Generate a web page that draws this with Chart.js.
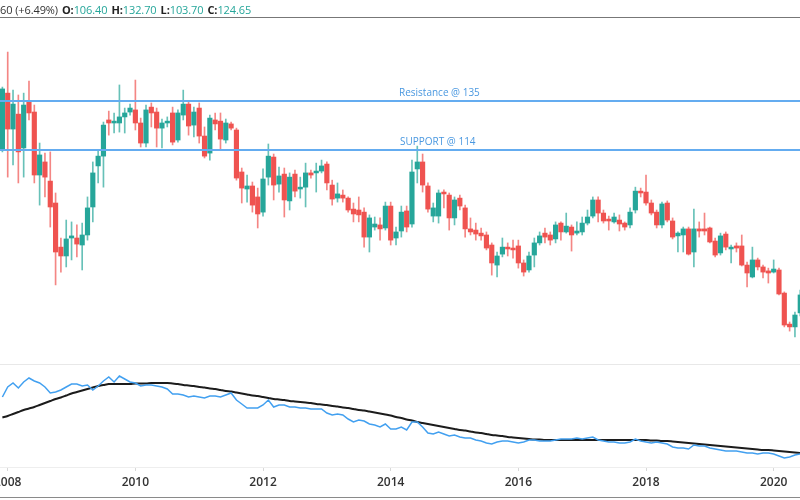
<!DOCTYPE html>
<html><head><meta charset="utf-8">
<script src="https://cdn.jsdelivr.net/npm/chart.js@4/dist/chart.umd.min.js"></script>
<style>
html,body{margin:0;padding:0;background:#fff;width:800px;height:500px;overflow:hidden}
#wrap{position:relative;width:800px;height:500px}
#c{position:absolute;left:0;top:0}
#hdr{position:absolute;left:0;top:2px;font:11px "Open Sans",sans-serif;color:#333;white-space:nowrap;letter-spacing:-0.1px}
#hdr b{font-weight:700;color:#222;margin-left:4px}
#hdr .v{color:#26a69a}
</style></head>
<body><div id="wrap"><canvas id="c" width="800" height="500"></canvas><div id="hdr"></div></div>
<script>
// ---- data (monthly candles, Dec 2007 .. Jun 2020) ----
const firstYear = 2007, firstMonth = 12, candleCount = 151;
const opens = [114.4,138.4,123.0,129.4,114.9,134.6,130.3,103.3,108.9,100.7,91.3,72.4,68.6,
76.3,76.3,73.3,77.6,89.6,107.2,111.4,126.9,125.6,125.6,128.2,130.3,
131.2,125.6,117.0,132.4,130.3,123.4,125.6,129.9,118.3,129.0,133.7,124.7,
132.0,120.0,112.7,126.9,126.4,118.3,125.2,122.6,104.6,97.3,98.6,93.9,
87.4,102.4,111.0,99.4,103.7,92.2,103.7,97.3,98.1,104.2,104.2,105.0,
108.0,99.0,93.4,94.7,93.4,88.7,88.3,87.4,76.7,81.0,81.9,80.6,
90.0,76.3,79.3,87.9,82.3,105.9,108.9,98.6,85.7,85.7,96.0,94.7,
84.9,93.4,89.2,80.2,79.7,78.4,77.6,73.3,64.7,69.4,72.4,72.0,
72.9,65.6,62.6,69.0,74.2,78.4,77.6,75.9,82.7,78.9,81.0,78.4,
78.9,82.7,85.7,92.6,87.0,84.4,83.2,84.0,82.7,81.9,88.3,96.4,
96.0,91.3,87.4,81.9,91.3,83.6,77.2,77.6,80.2,70.3,80.2,80.2,
80.6,75.0,69.9,78.0,71.6,72.9,72.9,64.7,59.6,66.9,63.9,62.2,
61.7,62.6,52.7,39.4,38.2,44.2];
const highs = [141.0,156.0,139.7,137.6,138.4,143.6,133.3,117.0,112.7,113.2,95.6,76.3,84.0,
83.2,81.9,82.7,93.9,108.9,114.0,126.0,130.7,129.9,141.9,132.0,133.7,
144.0,127.7,133.3,134.2,132.0,127.3,128.2,132.4,131.2,139.7,135.0,132.4,
134.2,123.9,129.0,129.9,129.9,127.3,126.0,123.4,106.3,103.3,100.3,97.7,
105.9,116.6,112.3,106.7,106.3,104.2,105.4,102.4,108.4,105.4,108.4,109.7,
108.9,101.1,99.9,96.9,93.9,91.3,93.9,89.2,86.2,85.3,84.9,91.7,
91.7,81.0,90.0,90.0,109.7,115.7,112.3,99.9,91.3,96.9,96.9,95.6,
93.9,94.7,90.4,84.9,82.7,80.6,78.9,74.2,70.3,76.3,74.2,75.4,
75.4,66.9,70.3,76.3,78.9,80.6,78.9,83.2,83.2,87.0,81.9,83.2,
85.3,88.3,93.9,93.9,88.3,85.7,87.0,86.2,83.2,89.2,98.1,97.7,
103.3,92.6,88.3,91.7,92.2,84.9,78.9,81.0,81.0,88.7,83.2,87.0,
81.0,76.3,78.4,78.9,73.3,74.2,77.6,66.0,72.4,67.7,64.7,63.4,
66.9,63.4,53.2,40.3,44.6,54.0];
const lows = [113.2,102.4,107.6,99.9,102.4,126.9,99.9,90.4,93.9,81.0,56.2,61.7,63.9,
66.9,68.2,62.6,75.4,83.2,99.9,98.1,120.4,121.3,121.7,121.3,129.0,
122.6,115.3,115.3,123.9,115.3,114.9,123.9,116.2,117.4,126.9,120.4,119.6,
117.0,110.6,109.7,122.6,114.0,117.0,122.6,101.1,91.3,91.7,87.4,80.6,
85.7,99.0,92.6,96.0,85.3,88.3,93.9,93.4,89.6,102.0,96.0,104.2,
96.9,90.4,91.7,91.7,87.4,83.2,83.2,72.4,70.3,79.7,75.4,79.7,
73.3,73.3,76.7,78.9,81.0,99.9,96.0,87.4,83.2,82.7,89.2,79.7,
81.9,88.3,76.7,77.6,75.4,75.4,71.2,60.4,59.6,68.2,68.6,67.7,
63.4,60.0,61.7,63.9,73.3,74.2,73.3,74.2,75.4,78.4,70.7,77.6,
77.6,81.9,84.9,83.2,82.7,79.7,82.7,79.3,79.7,80.6,87.0,93.9,
90.4,86.2,80.6,80.6,83.2,75.9,70.3,70.3,69.0,63.9,76.7,77.6,
74.2,68.2,69.0,71.2,65.6,70.3,64.3,55.3,59.2,62.6,59.2,57.0,
61.3,51.9,38.2,36.4,33.9,42.9];
const closes = [140.2,123.0,133.7,113.2,133.3,129.9,103.3,111.9,102.4,89.6,70.3,68.6,75.9,
77.2,73.7,77.6,89.2,104.2,111.4,124.7,125.6,126.4,128.2,129.9,132.0,
125.6,117.0,131.2,129.9,123.4,125.6,126.4,117.4,129.9,133.7,124.3,130.3,
120.0,111.4,127.7,125.2,118.7,125.6,123.4,102.0,97.7,98.6,90.4,86.6,
101.6,111.4,99.0,102.9,92.6,102.4,96.4,98.1,104.2,103.3,105.0,107.2,
99.9,93.0,95.2,93.4,88.3,86.6,86.2,76.7,84.9,82.3,80.2,90.0,
75.4,78.9,87.4,81.0,104.6,108.9,99.0,88.7,89.2,95.6,95.2,84.9,
92.6,90.0,80.2,78.9,78.0,77.2,72.0,65.6,68.6,72.4,71.6,71.2,
65.6,61.7,68.6,74.2,77.2,76.7,75.4,81.9,78.9,81.4,77.6,79.3,
82.7,85.3,92.6,87.0,83.6,83.6,85.3,82.3,81.0,87.4,96.4,95.6,
91.3,87.0,81.9,90.9,84.0,76.7,78.4,80.2,69.4,80.2,79.3,79.3,
74.6,69.0,77.2,72.4,72.4,72.0,64.7,61.3,66.9,63.9,61.7,61.3,
63.0,52.3,39.0,38.2,43.3,51.9];
// lower pane: oscillator (blue) and its moving average (black)
const oscillator = [70,80,84,79,85,89,86,84,80,74,75,77,80,
83,83,81,82,77,81,86,90,85,91,88,85,
84,81,82,82,81,80,78,73,73,72,70,71,
70,69,71,71,70,72,74,67,63,59,59,59,
62,67,60,62,62,60,60,59,59,58,58,58,
54,52,53,52,48,45,47,46,43,42,40,43,
38,38,40,37,45,45,40,34,33,35,33,31,
32,30,29,29,27,26,24,23,25,26,26,25,
24,25,27,27,26,26,26,27,28,28,28,29,
28,29,30,27,26,25,25,24,24,25,28,26,
25,24,25,24,23,20,19,19,18,22,21,21,
19,18,17,16,16,16,15,14,14,13,14,14,
13,11,9,10,12,13];
const oscillatorAvg = [49.5,51,53,55,57,58.5,60,62,64,66,68,69.5,71.5,
73.5,75,76.5,78,79.5,81,82,83,83,83,83,83,
83.5,83.5,83.5,84,84,84,84,83.5,83,82,81.5,81,
80,79.5,78.5,78,77,76,75.5,74.5,73.5,72.5,71.5,71,
70,69,68,67.5,67,66,65.5,65,64.5,64,63,62.5,
62,61,60.5,59.5,59,58,57,56.5,55.5,54.5,53.5,52.5,
51.5,50,49,47.5,46.5,45,44,43,42,41,40,39,
38,37,36.5,35.5,34.5,34,33,32,31.5,31,30,29.5,
29,28.5,28,27.5,27.5,27,27,27,27,27,27,27,
27,27,27,27,27,27,27,27,27,27,27,27,
27,26.5,26.5,26,26,25.5,25,24.5,24,23.5,23,22.5,
22,21.5,21,20.5,20,19.5,19,18.5,18,17.5,17,17,
16.5,16,15.5,15,14.5,14];
const tickYears = [2008,2010,2012,2014,2016,2018,2020];
const resistance = 135, support = 114;
const headerChange = '60 (+6.49%)';
const headerOHLC = [['O','106.40'],['H','132.70'],['L','103.70'],['C','124.65']];

// ---- categories: month numbers counted from Jan 2008 ----
const monthNums = [];
for (let i = 0; i < candleCount; i++) {
  const y = firstYear + Math.floor((firstMonth - 1 + i) / 12);
  const m = (firstMonth - 1 + i) % 12;
  monthNums.push((y - 2008) * 12 + m);
}
const UP = '#26a69a', DOWN = '#ef5350';
const colors = opens.map((o, i) => closes[i] >= o ? UP : DOWN);
const wickColors = opens.map((o, i) => closes[i] >= o ? 'rgba(38,166,154,0.7)' : 'rgba(239,83,80,0.7)');

document.getElementById('hdr').innerHTML = headerChange +
  headerOHLC.map(p => '<b>' + p[0] + ':</b><span class="v">' + p[1] + '</span>').join('');

const xMin = -1.45, xMax = 148.95;

const decor = {
  id: 'decor',
  afterDatasetsDraw(chart) {
    const ctx = chart.ctx, y = chart.scales.y, a = chart.chartArea;
    ctx.save();
    ctx.font = '10px "Open Sans", sans-serif';
    ctx.fillStyle = '#4a98e0';
    ctx.textBaseline = 'alphabetic';
    ctx.fillText('Resistance @ ' + resistance, 399, y.getPixelForValue(resistance) - 5);
    ctx.fillText('SUPPORT @ ' + support, 400, y.getPixelForValue(support) - 5);
    ctx.lineWidth = 1;
    ctx.strokeStyle = '#777';
    ctx.beginPath(); ctx.moveTo(0, 17.5); ctx.lineTo(800, 17.5); ctx.stroke();
    ctx.strokeStyle = '#e8e8e8';
    const sep = chart.scales.y.bottom;
    ctx.beginPath(); ctx.moveTo(0, Math.round(sep) + 0.5); ctx.lineTo(800, Math.round(sep) + 0.5); ctx.stroke();
    ctx.strokeStyle = '#eeeeee';
    ctx.beginPath(); ctx.moveTo(0, a.bottom + 0.5); ctx.lineTo(800, a.bottom + 0.5); ctx.stroke();
    ctx.strokeStyle = '#8a8a8a';
    ctx.beginPath(); ctx.moveTo(0, 497.5); ctx.lineTo(800, 497.5); ctx.stroke();
    ctx.restore();
  }
};

new Chart(document.getElementById('c'), {
  type: 'bar',
  data: {
    datasets: [
      { label: 'wick', type: 'bar', yAxisID: 'y', order: 3, grouped: false,
        data: monthNums.map((x, i) => ({ x: x, y: [lows[i], highs[i]] })),
        backgroundColor: wickColors, barThickness: 1, borderWidth: 0 },
      { label: 'body', type: 'bar', yAxisID: 'y', order: 2, grouped: false,
        data: monthNums.map((x, i) => ({ x: x, y: [opens[i], closes[i]] })),
        backgroundColor: colors, barThickness: 4.5, minBarLength: 1.5, borderWidth: 0 },
      { label: 'Resistance', type: 'line', yAxisID: 'y', order: 1,
        data: [{ x: xMin, y: resistance }, { x: xMax, y: resistance }],
        borderColor: '#64acf0', borderWidth: 2, pointRadius: 0 },
      { label: 'Support', type: 'line', yAxisID: 'y', order: 1,
        data: [{ x: xMin, y: support }, { x: xMax, y: support }],
        borderColor: '#64acf0', borderWidth: 2, pointRadius: 0 },
      { label: 'Average', type: 'line', yAxisID: 'y2', order: 1,
        data: monthNums.map((x, i) => ({ x: x, y: oscillatorAvg[i] })),
        borderColor: '#1c1c1c', borderWidth: 2, pointRadius: 0, tension: 0.3 },
      { label: 'Oscillator', type: 'line', yAxisID: 'y2', order: 0,
        data: monthNums.map((x, i) => ({ x: x, y: oscillator[i] })),
        borderColor: '#42a0f0', borderWidth: 1.5, pointRadius: 0 }
    ]
  },
  options: {
    responsive: false, animation: false,
    layout: { padding: { top: 18, left: 0, right: 0, bottom: 0 } },
    plugins: { legend: { display: false }, tooltip: { enabled: false } },
    scales: {
      x: {
        type: 'linear', min: xMin, max: xMax, position: 'bottom', offset: false,
        grid: { display: true, offset: false, drawOnChartArea: false, tickLength: 4, color: '#d8d8d8' },
        border: { display: false },
        afterBuildTicks(s) { s.ticks = tickYears.map(yr => ({ value: (yr - 2008) * 12 })); },
        afterFit(s) { s.height = 33; s.paddingLeft = 0; s.paddingRight = 0; },
        ticks: {
          autoSkip: false, maxRotation: 0, padding: 4, color: '#333',
          font: { family: '"Open Sans", sans-serif', size: 12, weight: '600' },
          callback: v => String(2008 + v / 12)
        }
      },
      y2: { type: 'linear', display: false, min: 0, max: 103, stack: 'pane', stackWeight: 103, position: 'left' },
      y: { type: 'linear', display: false, min: 22.3, max: 170.6, stack: 'pane', stackWeight: 346, position: 'left' }
    }
  },
  plugins: [decor]
});
</script>
</body></html>
